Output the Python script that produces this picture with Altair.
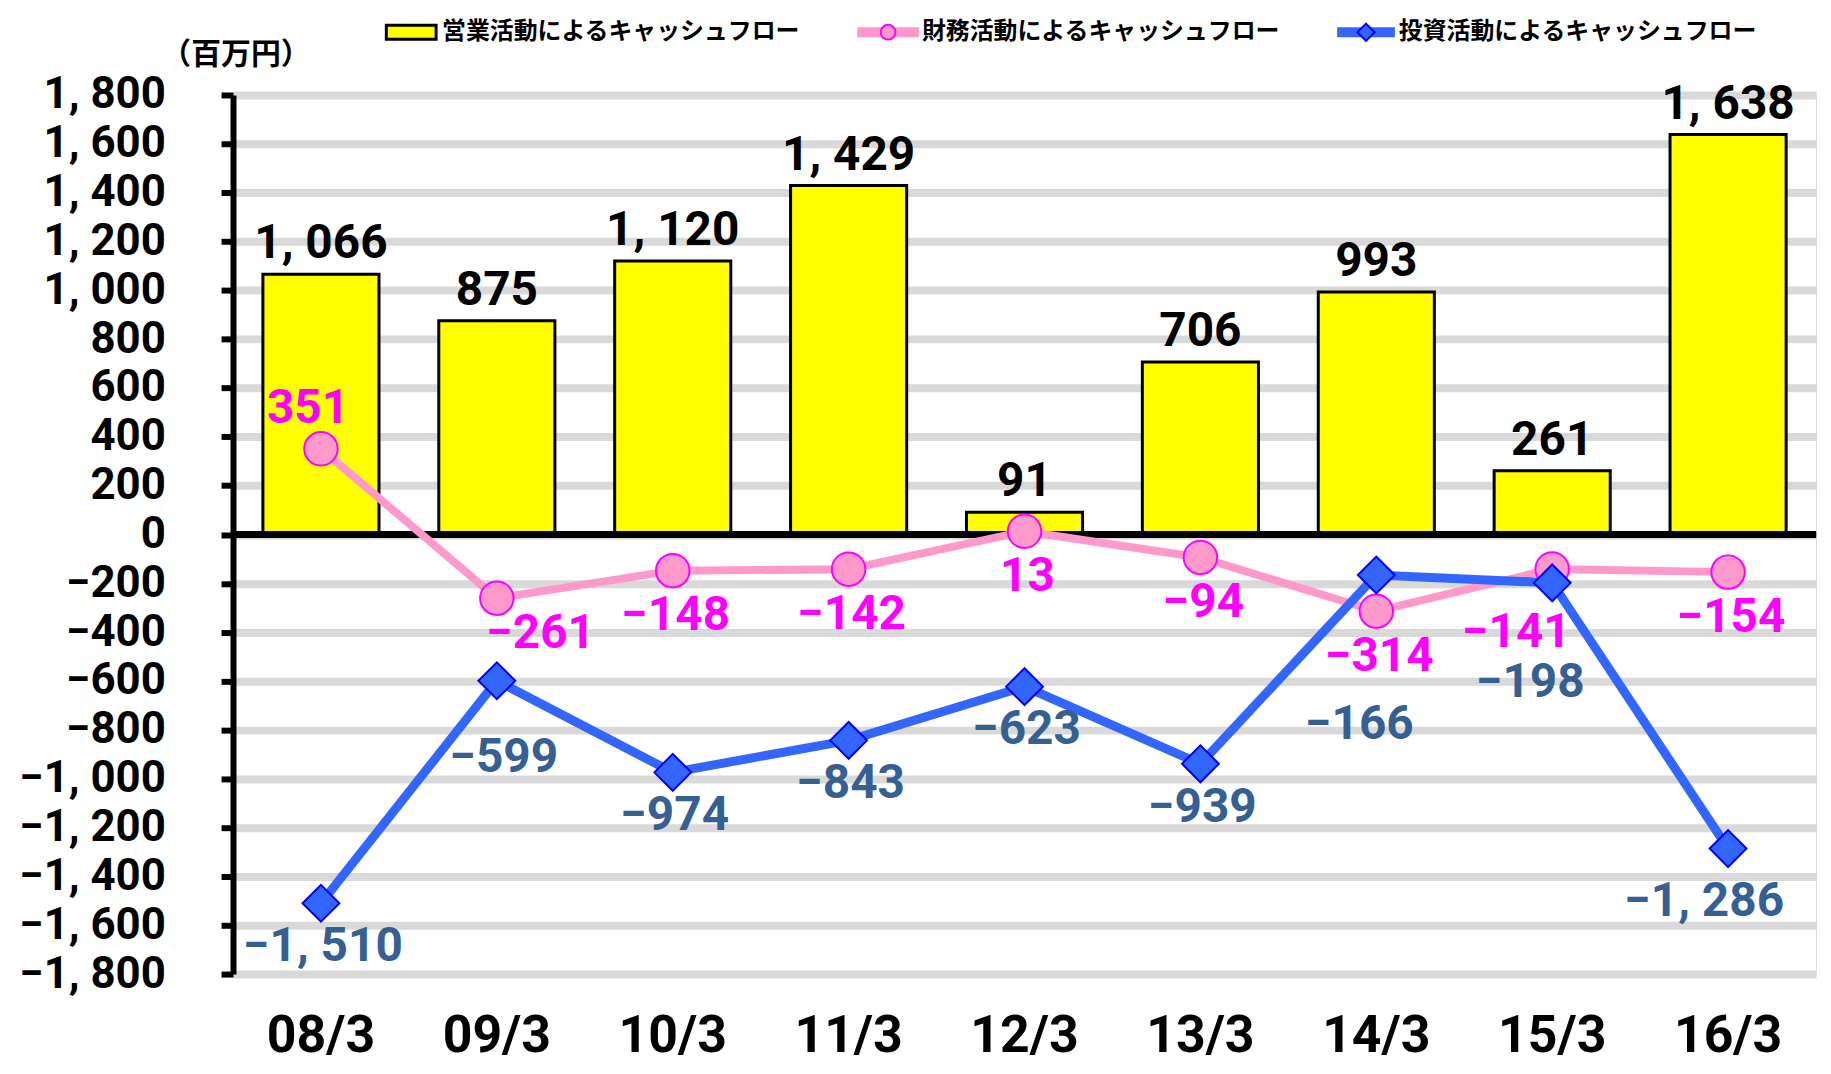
import altair as alt
import pandas as pd

periods = ["08/3", "09/3", "10/3", "11/3", "12/3", "13/3", "14/3", "15/3", "16/3"]
operating = [1066, 875, 1120, 1429, 91, 706, 993, 261, 1638]
financing = [351, -261, -148, -142, 13, -94, -314, -141, -154]
investing = [-1510, -599, -974, -843, -623, -939, -166, -198, -1286]
series_names = [
    "営業活動によるキャッシュフロー",
    "財務活動によるキャッシュフロー",
    "投資活動によるキャッシュフロー",
]
unit_label = "（百万円）"
y_ticks = list(range(-1800, 1801, 200))

NUM_FONT = "Roboto"
JP_FONT = "Noto Sans CJK JP"
NUM_SIZE = 48
AXIS_SIZE = 44

YELLOW = "#FFFF00"
PINK = "#FF99CC"
MAGENTA = "#FF00FF"
BLUE = "#3366FF"
DBLUE = "#0000FF"
BLUE_LBL = "#376092"

df = pd.DataFrame({
    "period": periods,
    "operating": operating,
    "financing": financing,
    "investing": investing,
})

LBL_EXPR = "replace(format(datum.{f}, ','), ',', ', ')"

xscale = alt.Scale(domain=periods, paddingInner=0.34, paddingOuter=0.17)
xaxis = alt.Axis(
    title=None, domain=False, ticks=False, tickSize=0, grid=False,
    labelFont=NUM_FONT, labelFontSize=52, labelFontWeight="bold",
    labelColor="black", labelPadding=62, labelBaseline="middle", labelAngle=0,
    labelLimit=0, labelOverlap=False,
)
yscale = alt.Scale(domain=[-1800, 1800], nice=False, zero=False)
yaxis = alt.Axis(
    title=None, values=y_ticks, domain=True, domainColor="black", domainWidth=6,
    ticks=True, tickColor="black", tickWidth=6, tickSize=12,
    grid=True, gridColor="#D9D9D9", gridWidth=8,
    labelFont=NUM_FONT, labelFontSize=AXIS_SIZE, labelFontWeight="bold",
    labelColor="black", labelPadding=56, labelLimit=0, labelOverlap=False,
    labelExpr="replace(format(datum.value, ','), ',', ', ')",
)


def X():
    return alt.X("period:N", scale=xscale, axis=xaxis, sort=periods)


def Y(field):
    return alt.Y(f"{field}:Q", scale=yscale, axis=yaxis)


base = alt.Chart(df)

bars = base.mark_bar(color=YELLOW, stroke="black", strokeWidth=3).encode(
    x=X(), y=Y("operating")
)
zero = base.mark_rule(color="black", strokeWidth=6).encode(y=alt.datum(0))

fin_line = base.mark_line(color=PINK, strokeWidth=8).encode(x=X(), y=Y("financing"))
fin_pts = base.mark_point(
    shape="circle", filled=True, fill=PINK, stroke=MAGENTA, strokeWidth=2,
    size=1130, opacity=1,
).encode(x=X(), y=Y("financing"))
inv_line = base.mark_line(color=BLUE, strokeWidth=9).encode(x=X(), y=Y("investing"))
inv_pts = base.mark_point(
    shape="diamond", filled=True, fill=BLUE, stroke=DBLUE, strokeWidth=2,
    size=1369, opacity=1,
).encode(x=X(), y=Y("investing"))


def label_layers(field, color, groups, rest_dx, rest_dy, size=NUM_SIZE):
    layers = []
    special = []
    for cats, dx, dy in groups:
        special += cats
        layers.append(
            base.transform_filter(alt.FieldOneOfPredicate(field="period", oneOf=cats))
            .transform_calculate(lbl=LBL_EXPR.format(f=field))
            .mark_text(font=NUM_FONT, fontSize=size, fontWeight="bold", color=color,
                       baseline="middle", align="center", dx=dx, dy=dy)
            .encode(x=X(), y=Y(field), text="lbl:N")
        )
    rest = [p for p in periods if p not in special]
    layers.append(
        base.transform_filter(alt.FieldOneOfPredicate(field="period", oneOf=rest))
        .transform_calculate(lbl=LBL_EXPR.format(f=field))
        .mark_text(font=NUM_FONT, fontSize=size, fontWeight="bold", color=color,
                   baseline="middle", align="center", dx=rest_dx, dy=rest_dy)
        .encode(x=X(), y=Y(field), text="lbl:N")
    )
    return layers


op_labels = label_layers("operating", "black", [], 0, -30)
fin_labels = label_layers(
    "financing", MAGENTA,
    [(["08/3"], -13, -40), (["09/3"], 44, 36), (["15/3"], -36, 64)],
    3, 46,
)
inv_labels = label_layers(
    "investing", BLUE_LBL,
    [(["09/3"], 7, 78), (["14/3"], -17, 151), (["15/3"], -22, 101), (["16/3"], -24, 54)],
    2, 44,
)

# Legend (drawn above the plot area) and unit label
leg_y = -63
leg_txt = dict(font=JP_FONT, fontSize=24, fontWeight="bold", color="black",
               align="left", baseline="middle")
legend = [
    alt.Chart(pd.DataFrame({"t": [series_names[0]]})).mark_rect(
        fill=YELLOW, stroke="black", strokeWidth=3
    ).encode(x=alt.value(154), x2=alt.value(204), y=alt.value(leg_y - 7), y2=alt.value(leg_y + 7)),
    alt.Chart(pd.DataFrame({"t": [series_names[0]]})).mark_text(**leg_txt).encode(
        x=alt.value(210), y=alt.value(leg_y), text="t:N"),
    alt.Chart(pd.DataFrame({"t": [series_names[1]]})).mark_rule(
        color=PINK, strokeWidth=10
    ).encode(x=alt.value(627), x2=alt.value(689), y=alt.value(leg_y)),
    alt.Chart(pd.DataFrame({"t": [series_names[1]]})).mark_point(
        shape="circle", filled=True, fill=PINK, stroke=MAGENTA, strokeWidth=2, size=220, opacity=1
    ).encode(x=alt.value(658), y=alt.value(leg_y)),
    alt.Chart(pd.DataFrame({"t": [series_names[1]]})).mark_text(**leg_txt).encode(
        x=alt.value(692), y=alt.value(leg_y), text="t:N"),
    alt.Chart(pd.DataFrame({"t": [series_names[2]]})).mark_rule(
        color=BLUE, strokeWidth=10
    ).encode(x=alt.value(1109), x2=alt.value(1167), y=alt.value(leg_y)),
    alt.Chart(pd.DataFrame({"t": [series_names[2]]})).mark_point(
        shape="diamond", filled=True, fill=BLUE, stroke=DBLUE, strokeWidth=2, size=300, opacity=1
    ).encode(x=alt.value(1138), y=alt.value(leg_y)),
    alt.Chart(pd.DataFrame({"t": [series_names[2]]})).mark_text(**leg_txt).encode(
        x=alt.value(1171), y=alt.value(leg_y), text="t:N"),
    alt.Chart(pd.DataFrame({"t": [unit_label]})).mark_text(
        font=JP_FONT, fontSize=30, fontWeight="bold", color="black", align="left", baseline="middle"
    ).encode(x=alt.value(-72), y=alt.value(-40), text="t:N"),
]

chart = alt.layer(
    bars, zero, fin_line, fin_pts, inv_line, inv_pts,
    *op_labels, *fin_labels, *inv_labels, *legend,
).properties(
    width=1590, height=883,
    padding={"left": 226, "top": 85, "right": 7, "bottom": 88},
    autosize=alt.AutoSizeParams(type="none"),
).configure_view(stroke=None).configure(background="white")

chart.save("out.html", embed_options={"renderer": "svg", "actions": False})
